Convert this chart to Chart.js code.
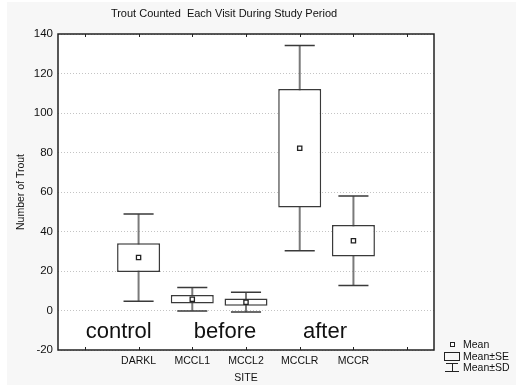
<!DOCTYPE html>
<html>
<head>
<meta charset="utf-8">
<script src="https://cdn.jsdelivr.net/npm/chart.js@4.4.0/dist/chart.umd.min.js"></script>
<style>
  html, body { margin: 0; padding: 0; background: #fff; }
</style>
</head>
<body>
<canvas id="myChart" width="516" height="387"></canvas>
<script>
// trout counts per site: mean, standard error, standard deviation
const sites = ['DARKL', 'MCCL1', 'MCCL2', 'MCCLR', 'MCCR'];
const means = [26.8, 5.7, 4.2, 82.2, 35.3];
const stdErr = [7.3, 2.2, 1.85, 30.0, 8.0];
const stdDev = [22.1, 5.9, 5.0, 52.0, 22.7];
const yTicks = [-20, 0, 20, 40, 60, 80, 100, 120, 140];
const groupNames = ['control', 'before', 'after'];

const FONT = '"Liberation Sans", Arial, sans-serif';

// one empty slot at each end of the site axis
const labels = [''].concat(sites, ['']);
const pad = arr => [null].concat(arr, [null]);
const seBoxes = pad(sites.map((s, i) => [means[i] - stdErr[i], means[i] + stdErr[i]]));

const bgPlugin = {
    id: 'bg',
    beforeDraw(chart) {
        const ctx = chart.ctx, a = chart.chartArea;
        ctx.save();
        ctx.fillStyle = '#f7f7f7';
        ctx.fillRect(7, 2, chart.width - 7, 383);
        ctx.fillStyle = '#ffffff';
        ctx.fillRect(a.left, a.top, a.right - a.left, a.bottom - a.top);
        ctx.restore();
    }
};

// SD whiskers, drawn under the SE boxes
const whiskerPlugin = {
    id: 'whiskers',
    beforeDatasetsDraw(chart) {
        const ctx = chart.ctx;
        const xs = chart.scales.x, ys = chart.scales.y;
        const slot = xs.getPixelForValue(1) - xs.getPixelForValue(0);
        const cap = slot * 0.28;
        ctx.save();
        sites.forEach((s, i) => {
            const x = xs.getPixelForValue(i + 1);
            const yHi = ys.getPixelForValue(means[i] + stdDev[i]);
            const yLo = ys.getPixelForValue(means[i] - stdDev[i]);
            ctx.strokeStyle = '#7a7a7a';
            ctx.lineWidth = 2;
            ctx.beginPath();
            ctx.moveTo(x, yHi);
            ctx.lineTo(x, yLo);
            ctx.stroke();
            ctx.strokeStyle = '#3a3a3a';
            ctx.lineWidth = 1.5;
            ctx.beginPath();
            ctx.moveTo(x - cap, yHi); ctx.lineTo(x + cap, yHi);
            ctx.moveTo(x - cap, yLo); ctx.lineTo(x + cap, yLo);
            ctx.stroke();
        });
        ctx.restore();
    }
};

const framePlugin = {
    id: 'frame',
    afterDraw(chart) {
        const ctx = chart.ctx, a = chart.chartArea;
        const xs = chart.scales.x, ys = chart.scales.y;
        ctx.save();
        ctx.strokeStyle = '#222';
        ctx.lineWidth = 1.5;
        ctx.strokeRect(a.left, a.top, a.right - a.left, a.bottom - a.top);
        // small inward tick marks on top and bottom edges
        ctx.lineWidth = 1;
        ctx.beginPath();
        labels.forEach((l, i) => {
            const x = Math.round(xs.getPixelForTick(i)) + 0.5;
            ctx.moveTo(x, a.top); ctx.lineTo(x, a.top + 3);
            ctx.moveTo(x, a.bottom); ctx.lineTo(x, a.bottom - 3);
        });
        ctx.stroke();

        // group captions inside the plot
        const at = [0.63, 2.61, 4.47];
        ctx.fillStyle = '#111';
        ctx.font = '22px ' + FONT;
        ctx.textAlign = 'center';
        ctx.textBaseline = 'middle';
        groupNames.forEach((g, i) => {
            ctx.fillText(g, xs.getPixelForValue(at[i]), ys.getPixelForValue(-11));
        });

        // chart title
        ctx.font = '11px ' + FONT;
        ctx.fillText('Trout Counted  Each Visit During Study Period', 224, 14);

        // key
        ctx.textAlign = 'left';
        ctx.font = '10.5px ' + FONT;
        ctx.fillStyle = '#111';
        ctx.fillText('Mean', 463, 345);
        ctx.fillText('Mean\u00b1SE', 463, 357);
        ctx.fillText('Mean\u00b1SD', 463, 368);
        ctx.strokeStyle = '#222';
        ctx.lineWidth = 1;
        ctx.fillStyle = '#fff';
        ctx.fillRect(450.5, 342.5, 4, 4);
        ctx.strokeRect(450.5, 342.5, 4, 4);
        ctx.strokeRect(444.5, 352.5, 15, 8);
        ctx.beginPath();
        ctx.moveTo(446, 363.5); ctx.lineTo(458, 363.5);
        ctx.moveTo(452.5, 363.5); ctx.lineTo(452.5, 371.5);
        ctx.moveTo(445, 371.5); ctx.lineTo(459, 371.5);
        ctx.stroke();
        ctx.restore();
    }
};

const ctx = document.getElementById('myChart').getContext('2d');
const chart = new Chart(ctx, {
    data: {
        labels: labels,
        datasets: [{
            type: 'bar',
            label: 'Mean\u00b1SE',
            data: seBoxes,
            backgroundColor: '#ffffff',
            borderColor: '#3a3a3a',
            borderWidth: 1.5,
            borderSkipped: false,
            barPercentage: 0.8,
            categoryPercentage: 1.0,
            order: 2
        }, {
            type: 'line',
            label: 'Mean',
            data: pad(means),
            showLine: false,
            pointStyle: 'rect',
            pointRadius: 3,
            pointBorderWidth: 1.3,
            pointBorderColor: '#222',
            pointBackgroundColor: '#fff',
            order: 1
        }]
    },
    options: {
        responsive: false,
        animation: false,
        devicePixelRatio: 1,
        layout: { padding: { top: 34, right: 82, left: 0, bottom: 0 } },
        plugins: {
            legend: { display: false },
            tooltip: { enabled: false },
            title: { display: false }
        },
        scales: {
            x: {
                type: 'category',
                offset: true,
                grid: { display: false, drawTicks: false },
                border: { display: false },
                ticks: { color: '#111', font: { family: FONT, size: 10.5 }, padding: 5, autoSkip: false, maxRotation: 0 },
                title: { display: true, text: 'SITE', color: '#111', font: { family: FONT, size: 10.5 }, padding: { top: 0, bottom: 3 } },
                afterFit(s) { s.height = 37; }
            },
            y: {
                min: -20,
                max: 140,
                afterBuildTicks(s) { s.ticks = yTicks.map(v => ({ value: v })); },
                grid: { color: '#c4c4c4', lineWidth: 1, drawTicks: false },
                border: { display: false, dash: [1, 2] },
                ticks: { color: '#111', font: { family: FONT, size: 11.5 }, padding: 5 },
                title: { display: true, text: 'Number of Trout', color: '#111', font: { family: FONT, size: 10.5 }, padding: { top: 15, bottom: 0 } },
                afterFit(s) { s.width = 58; }
            }
        }
    },
    plugins: [bgPlugin, whiskerPlugin, framePlugin]
});
</script>
</body>
</html>
